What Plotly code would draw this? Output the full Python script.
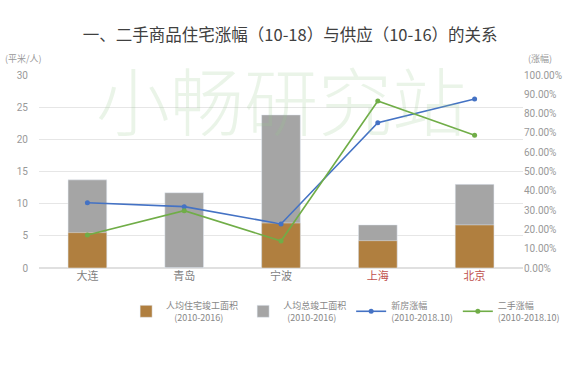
import plotly.graph_objects as go

cities = ["大连", "青岛", "宁波", "上海", "北京"]
city_colors = ["#7f7f7f", "#7f7f7f", "#7f7f7f", "#c0504d", "#c0504d"]
resi_area = [5.5, 0, 7.0, 4.25, 6.7]
total_area = [13.7, 11.7, 23.8, 6.7, 13.0]
new_growth = [0.338, 0.318, 0.228, 0.753, 0.876]
second_growth = [0.171, 0.297, 0.14, 0.865, 0.688]

ticktext = [f"<span style='color:{c}'>{n}</span>" for n, c in zip(cities, city_colors)]

fig = go.Figure()
fig.add_trace(go.Bar(x=cities, y=total_area, name="人均总竣工面积<br>  (2010-2016)",
                     marker_color="#a5a5a5", width=0.4, legendrank=2))
fig.add_trace(go.Bar(x=cities, y=resi_area, name="人均住宅竣工面积<br>    (2010-2016)",
                     marker_color="#b07f3f", width=0.4, legendrank=1))
fig.add_trace(go.Scatter(x=cities, y=new_growth, name="新房涨幅<br>(2010-2018.10)", yaxis="y2",
                         mode="lines+markers", line=dict(color="#4472c4", width=1.6),
                         marker=dict(size=5), legendrank=3))
fig.add_trace(go.Scatter(x=cities, y=second_growth, name="二手涨幅<br>(2010-2018.10)", yaxis="y2",
                         mode="lines+markers", line=dict(color="#70ad47", width=1.6),
                         marker=dict(size=5), legendrank=4))

font_cjk = "Noto Sans CJK SC"
fig.update_layout(
    width=569, height=368,
    margin=dict(l=39, r=46, t=75, b=100, autoexpand=False),
    paper_bgcolor="white", plot_bgcolor="white",
    barmode="overlay",
    font=dict(family=font_cjk, color="#999999", size=10),
    title=dict(text="一、二手商品住宅涨幅（10-18）与供应（10-16）的关系",
               x=0.51, xanchor="center", y=0.905, yanchor="middle",
               font=dict(size=16.5, color="#404040", family=font_cjk)),
    xaxis=dict(tickmode="array", tickvals=cities, ticktext=ticktext, automargin=False,
               tickfont=dict(size=11), showline=False, showgrid=False),
    yaxis=dict(range=[0, 30], dtick=5, showgrid=True, gridcolor="#e6e6e6", automargin=False,
               zeroline=True, zerolinecolor="#e0e0e0", tickfont=dict(size=10, family="Roboto"),
               ticklabelstandoff=10),
    yaxis2=dict(range=[0, 1.0], dtick=0.1, tickformat=".2%", overlaying="y", side="right",
                automargin=False, showgrid=False, zeroline=False,
                tickfont=dict(size=10, family="Roboto")),
    legend=dict(orientation="h", x=0.18, xanchor="left", y=-0.13, yanchor="top",
                font=dict(size=9, color="#888888"), itemwidth=30, traceorder="normal",
                tracegroupgap=0),
    showlegend=True,
)
fig.add_annotation(text="小畅研究站", xref="paper", yref="paper", x=0.5, y=0.885,
                   xanchor="center", yanchor="middle", showarrow=False,
                   font=dict(size=74, color="rgba(150,200,140,0.2)", family=font_cjk, weight=300))
fig.add_annotation(text="(平米/人)", xref="paper", yref="paper", x=-0.075, y=1.04,
                   xanchor="left", yanchor="bottom", showarrow=False,
                   font=dict(size=9, color="#999999"))
fig.add_annotation(text="(涨幅)", xref="paper", yref="paper", x=1.0, y=1.04,
                   xanchor="left", yanchor="bottom", xshift=3, showarrow=False,
                   font=dict(size=9, color="#999999"))
fig.write_html("out.html", config={"displayModeBar": False},
               post_script="document.body.style.margin='0';")
